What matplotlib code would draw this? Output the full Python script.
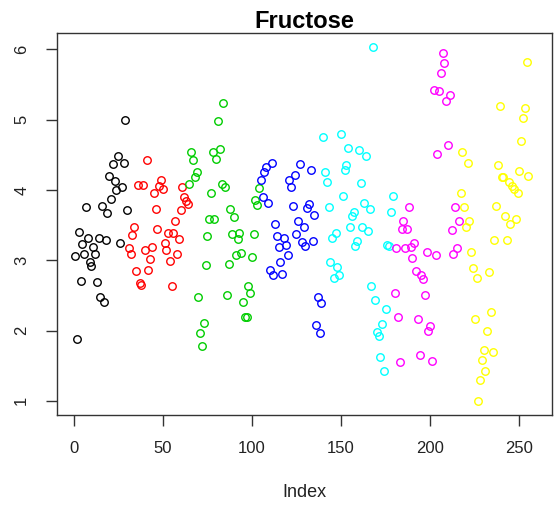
import numpy as np
import matplotlib
matplotlib.use("Agg")
import matplotlib.pyplot as plt

plt.rcParams['font.family'] = ['Liberation Sans', 'DejaVu Sans']

# fructose readings, in index order, one list per colour group
black = [3.06, 1.88, 3.40, 2.71, 3.23, 3.09, 3.75, 3.31, 2.97, 2.92, 3.19, 3.09, 2.69, 3.32, 2.47,
         3.77, 2.41, 3.29, 3.67, 4.20, 3.87, 4.37, 4.13, 4.00, 4.48, 3.25, 4.04, 4.38, 5.00, 3.71]
red = [3.18, 3.09, 3.36, 3.47, 2.84, 4.07, 2.68, 2.65, 4.07, 3.14, 4.42, 2.86, 3.02, 3.19, 3.95,
       3.73, 3.45, 4.05, 4.14, 4.01, 3.25, 3.15, 3.38, 2.99, 2.63, 3.38, 3.56, 3.09, 3.30, 3.72,
       4.04, 3.90, 3.84, 3.80]
green = [4.08, 4.54, 4.42, 4.19, 4.25, 2.48, 1.96, 1.78, 2.11, 2.93, 3.35, 3.58, 3.95, 4.54, 3.58,
         4.44, 4.98, 4.58, 4.09, 5.24, 4.04, 2.50, 2.94, 3.73, 3.37, 3.61, 3.07, 3.30, 3.38, 3.10,
         2.40, 2.19, 2.19, 2.63, 2.53, 3.04, 3.37, 3.85, 3.78, 4.03]
blue = [4.14, 3.90, 4.26, 4.32, 3.82, 2.86, 4.38, 2.79, 3.51, 3.34, 3.19, 2.98, 2.80, 3.32, 3.21,
        3.07, 4.14, 4.04, 3.77, 4.21, 3.37, 3.56, 4.37, 3.26, 3.47, 3.20, 3.74, 3.80, 4.28, 3.27,
        3.64, 2.08, 2.47, 1.97, 2.39]
cyan = [4.75, 4.25, 4.11, 3.75, 2.98, 3.32, 2.74, 3.39, 2.90, 2.79, 4.80, 3.91, 4.28, 4.35, 4.59,
        3.47, 3.63, 3.69, 3.20, 3.28, 4.57, 4.10, 3.47, 3.82, 4.48, 3.42, 3.73, 2.63, 6.03, 2.43,
        1.98, 1.92, 1.62, 2.10, 1.42, 2.30, 3.21, 3.20, 3.68, 3.91]
magenta = [2.53, 3.18, 2.19, 1.55, 3.44, 3.56, 3.17, 3.44, 3.75, 3.19, 3.03, 3.25, 2.85, 2.16, 1.65,
           2.79, 2.73, 2.51, 3.12, 1.99, 2.06, 1.56, 5.42, 3.07, 4.51, 5.40, 5.66, 5.95, 5.81, 5.26,
           4.64, 5.35, 3.43, 3.09, 3.76, 3.17, 3.56]
yellow = [3.96, 4.54, 3.76, 3.47, 4.38, 3.56, 3.12, 2.89, 2.16, 2.74, 1.00, 1.30, 1.58, 1.73, 1.42,
          1.99, 2.83, 2.27, 1.70, 3.29, 3.77, 4.36, 5.20, 4.19, 4.18, 3.63, 3.29, 4.11, 3.52, 4.05,
          4.01, 3.58, 3.96, 4.27, 4.69, 5.02, 5.17, 5.82, 4.20]

groups = [black, red, green, blue, cyan, magenta, yellow]
colours = ['#000000', '#FF0000', '#00CD00', '#0000FF', '#00FFFF', '#FF00FF', '#FFFF00']
xticks = [0, 50, 100, 150, 200, 250]
yticks = [1, 2, 3, 4, 5, 6]

fig = plt.figure(figsize=(5.55, 5.07), dpi=100)
ax = fig.add_axes([57 / 555, 92 / 507, 495 / 555, 382 / 507])

start = 1
for vals, col in zip(groups, colours):
    idx = np.arange(start, start + len(vals))
    ax.plot(idx, vals, ls='none', marker='o', ms=5.4, mfc='none', mec=col, mew=1.0)
    start += len(vals)

# padding of 4% on each side, like base R
allv = np.concatenate(groups)
ax.set_xlim(-9.3, 268.3)
r = allv.max() - allv.min()
ax.set_ylim(allv.min() - 0.04 * r, allv.max() + 0.04 * r)

ax.set_xticks(xticks)
ax.set_yticks(yticks)
ax.set_yticklabels([str(t) for t in yticks], rotation=90, va='center')
ax.tick_params(direction='out', length=8, width=1, colors='#333333', labelsize=12,
               labelcolor='#222222')
ax.tick_params(axis='x', pad=11)
ax.tick_params(axis='y', pad=12)
for s in ax.spines.values():
    s.set_color('#333333')
    s.set_linewidth(1)

ax.set_xlabel('Index', fontsize=13, color='#222222', labelpad=20)
ax.set_title('Fructose', fontsize=17, fontweight='bold', pad=3)

fig.savefig('out.png', dpi=100)
